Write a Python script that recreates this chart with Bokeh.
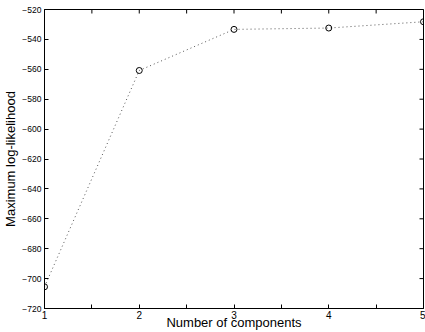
import math
from bokeh.plotting import figure
from bokeh.models import FixedTicker, Range1d
from bokeh.embed import file_html
from bokeh.resources import INLINE

components = [1, 2, 3, 4, 5]
loglik = [-705.5, -560.8, -533.3, -532.4, -528.2]
x_ticks = [1, 2, 3, 4, 5]
x_minor = [1.5, 2.5, 3.5, 4.5]
y_ticks = list(range(-720, -519, 20))

FONT = "Liberation Sans"

p = figure(width=425, height=332, output_backend="svg", toolbar_location=None,
           x_range=Range1d(1, 5), y_range=Range1d(-720, -520),
           min_border_left=44, min_border_right=2, min_border_top=9, min_border_bottom=24)
p.grid.visible = False
p.outline_line_color = "black"
p.outline_line_width = 1
p.background_fill_color = "white"
p.border_fill_color = "white"

p.line(components, loglik, line_color="#555555", line_width=1, line_dash="1 3")
p.scatter(components, loglik, marker="circle", size=6, line_color="black",
          fill_color=None, line_width=1)

# inward ticks on the right and top edges of the box (drawn at tick values, clipped by frame)
x_end = p.x_range.end
y_end = p.y_range.end
p.scatter([x_end] * len(y_ticks), y_ticks, marker="dash", size=8, line_color="black", line_width=1)
top_x = x_ticks + x_minor
p.scatter(top_x, [y_end] * len(top_x), marker="dash", size=8, angle=math.pi / 2,
          line_color="black", line_width=1)

def style(ax):
    ax.axis_line_color = "black"
    ax.major_tick_in = 4
    ax.major_tick_out = 0
    ax.minor_tick_in = 4
    ax.minor_tick_out = 0
    ax.major_tick_line_color = "black"
    ax.minor_tick_line_color = "black"
    ax.major_label_text_font = FONT
    ax.axis_label_text_font = FONT
    ax.axis_label_text_font_style = "normal"
    ax.axis_label_text_color = "black"
    ax.major_label_text_color = "black"

xa = p.xaxis[0]
xa.ticker = FixedTicker(ticks=x_ticks, minor_ticks=x_minor)
style(xa)
xa.major_label_text_font_size = "10px"
xa.major_label_standoff = 2
xa.axis_label = "Number of components"
xa.axis_label_text_font_size = "13px"
xa.axis_label_standoff = -7

ya = p.yaxis[0]
ya.ticker = FixedTicker(ticks=y_ticks)
style(ya)
ya.major_label_text_font_size = "8.5px"
ya.major_label_standoff = 3
ya.axis_label = "Maximum log-likelihood"
ya.axis_label_text_font_size = "13px"
ya.axis_label_standoff = 1

open("out.html", "w").write(file_html(p, INLINE))
